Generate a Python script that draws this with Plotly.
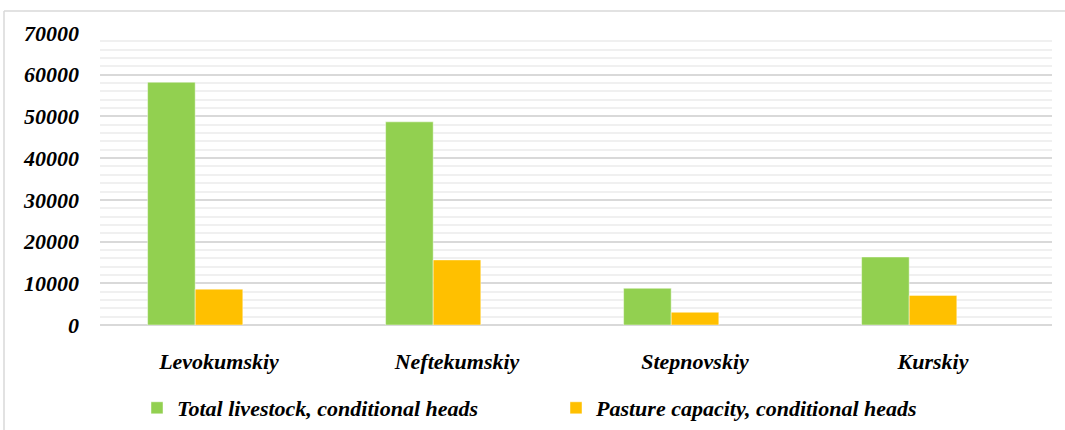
import plotly.graph_objects as go

categories = ["Levokumskiy", "Neftekumskiy", "Stepnovskiy", "Kurskiy"]
total_livestock = [58200, 48700, 8800, 16300]
pasture_capacity = [8600, 15600, 3050, 7100]
series_names = ["Total livestock, conditional heads", "Pasture capacity, conditional heads"]
y_ticks = [0, 10000, 20000, 30000, 40000, 50000, 60000, 70000]

W, H = 1065, 430
ML, MR, MT, MB = 100, 13, 33, 105
PW, PH = W - ML - MR, H - MT - MB

font = "Liberation Serif"


def bi(s):
    return "<b><i>" + s + "</i></b>"


fig = go.Figure()
fig.add_trace(go.Bar(
    x=categories, y=total_livestock, name=bi(series_names[0]),
    marker=dict(color="#92D050", line=dict(color="rgba(255,255,255,0.45)", width=1)),
    offset=-0.3, width=0.2,
))
fig.add_trace(go.Bar(
    x=categories, y=pasture_capacity, name=bi(series_names[1]),
    marker=dict(color="#FFC000", line=dict(color="rgba(255,255,255,0.45)", width=1)),
    offset=-0.1, width=0.2,
))

tickfont = dict(family=font, size=22, color="black")

fig.update_layout(
    template="none",
    font=dict(family=font, size=22, color="black"),
    width=W, height=H,
    margin=dict(l=ML, r=MR, t=MT, b=MB, pad=0, autoexpand=False),
    paper_bgcolor="white", plot_bgcolor="white",
    barmode="overlay",
    showlegend=True,
    legend=dict(
        orientation="h", x=(137 - ML) / PW, xanchor="left",
        y=-(408 - (MT + PH)) / PH, yanchor="middle",
        font=dict(family=font, size=22, color="black"),
        entrywidth=374, entrywidthmode="pixels",
        bgcolor="rgba(0,0,0,0)",
    ),
    xaxis=dict(
        type="category", categoryorder="array", categoryarray=categories,
        tickvals=categories, ticktext=[bi(c) for c in categories],
        showgrid=False, showline=False, ticks="", zeroline=False,
        tickfont=tickfont, ticklabelstandoff=21,
        range=[-0.5, 3.5],
    ),
    yaxis=dict(
        range=[0, 70000], tickvals=y_ticks,
        ticktext=[bi(str(v)) for v in y_ticks],
        showgrid=True, gridcolor="#D9D9D9", gridwidth=1.5,
        minor=dict(dtick=2000, showgrid=True, gridcolor="#F0F0F0", gridwidth=1.5),
        zeroline=True, zerolinecolor="#D9D9D9", zerolinewidth=1.5,
        showline=False, ticks="",
        tickfont=tickfont, ticklabelstandoff=20,
    ),
    shapes=[
        dict(type="line", xref="paper", yref="paper",
             x0=(4 - ML) / PW, x1=(W + 5 - ML) / PW,
             y0=(H - MB - 11) / PH, y1=(H - MB - 11) / PH,
             line=dict(color="#D9D9D9", width=1.5)),
        dict(type="line", xref="paper", yref="paper",
             x0=(4 - ML) / PW, x1=(4 - ML) / PW,
             y0=(H - MB - 11) / PH, y1=-(MB + 5) / PH,
             line=dict(color="#D9D9D9", width=1.5)),
    ],
)

fig.write_html("out.html")
